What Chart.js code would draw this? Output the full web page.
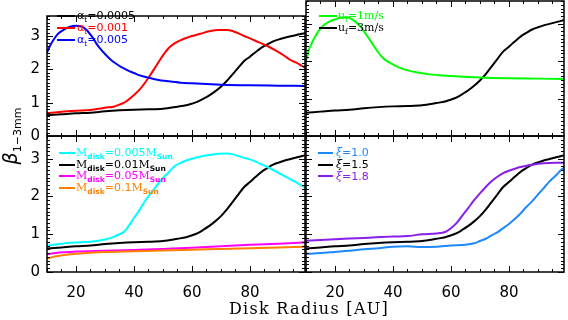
<!DOCTYPE html>
<html><head><meta charset="utf-8">
<script src="https://cdn.jsdelivr.net/npm/chart.js@4"></script>
<style>
html,body{margin:0;padding:0;background:#fff;}
#wrap{position:relative;width:568px;height:320px;overflow:hidden;font-family:"DejaVu Sans",sans-serif;}
canvas{position:absolute;left:0;top:0;}
.leg{position:absolute;}
.row{display:flex;align-items:center;white-space:nowrap;font-size:11px;line-height:11px;}
.sw{display:inline-block;height:2px;flex:none;}
.sf{font-family:"DejaVu Serif",serif;}
.sb{font-size:7.5px;font-weight:bold;position:relative;top:3px;}
.st{font-size:7.5px;position:relative;top:3px;}
#ytitle{position:absolute;left:-35px;top:124px;width:90px;height:24px;line-height:24px;text-align:center;transform:rotate(-90deg);color:#000;white-space:nowrap;}
#xtitle{position:absolute;left:159px;top:299px;width:300px;text-align:center;font-family:"DejaVu Serif",serif;font-size:16px;letter-spacing:1.3px;line-height:20px;color:#000;}
#err{position:absolute;left:0;top:0;font-size:9px;color:#c00;}
</style></head>
<body><div id="wrap">
<canvas id="cTL" width="568" height="320"></canvas>
<canvas id="cTR" width="568" height="320"></canvas>
<canvas id="cBL" width="568" height="320"></canvas>
<canvas id="cBR" width="568" height="320"></canvas>
<div id="ytitle"><i style="font-size:19px">β</i><span style="font-size:11px;position:relative;top:4px;">1−3mm</span></div>
<div id="xtitle">Disk Radius [AU]</div>
<div id="err"></div>
</div>
<script>
// ---- axis ranges and tick labels ----
const xMin = 10, xMax = 99;
const yMin = 0, yMax = 3.6;
const xTickValues = [20, 40, 60, 80];
const yTickValues = [0, 1, 2, 3];

// ---- reference model (black): alpha_t=0.0005, u_f=3m/s, Mdisk=0.01Msun, xi=1.5 ----
const blackX = [10,15,20,25,30,35,40,45,50,55,58,60,62,64,66,68,70,72,74,76,78,80,82,84,86,88,90,92,94,96,98,100];
const blackY = [0.62,0.65,0.68,0.70,0.74,0.77,0.79,0.80,0.82,0.88,0.92,0.97,1.03,1.12,1.22,1.34,1.48,1.65,1.85,2.05,2.25,2.38,2.52,2.65,2.75,2.84,2.90,2.95,2.99,3.03,3.07,3.10];

// ---- alpha_t = 0.001 (red) ----
const alpha001X = [10,15,20,25,30,33,35,37,40,42,44,46,48,50,52,54,56,58,60,63,66,69,72,74,76,78,80,82,84,86,88,90,92,94,96,98,100];
const alpha001Y = [0.68,0.73,0.76,0.78,0.85,0.88,0.94,1.02,1.23,1.40,1.62,1.88,2.15,2.42,2.64,2.78,2.87,2.94,3.00,3.07,3.14,3.18,3.18,3.15,3.08,3.00,2.93,2.85,2.78,2.70,2.61,2.51,2.40,2.28,2.20,2.10,2.00];

// ---- alpha_t = 0.005 (blue) ----
const alpha005X = [10,11,12,13,14,16,18,20,22,23,24,25,26,27,28,30,32,34,36,38,40,42,45,48,52,56,60,65,70,80,90,100];
const alpha005Y = [2.50,2.70,2.85,2.98,3.08,3.20,3.28,3.31,3.28,3.23,3.15,3.04,2.92,2.78,2.66,2.46,2.29,2.16,2.05,1.96,1.89,1.82,1.75,1.69,1.64,1.60,1.58,1.56,1.54,1.52,1.51,1.50];

// ---- u_f = 1 m/s (green) ----
const uf1X = [10,11,12,13,14,16,18,20,22,24,25,27,29,31,33,35,37,39,42,45,48,52,56,60,70,80,90,100];
const uf1Y = [2.00,2.30,2.48,2.63,2.76,2.95,3.05,3.11,3.16,3.17,3.15,3.05,2.90,2.68,2.45,2.22,2.05,1.95,1.83,1.75,1.70,1.65,1.62,1.60,1.56,1.54,1.53,1.52];

// ---- Mdisk = 0.005 Msun (cyan) ----
const m005X = [10,15,20,25,30,33,35,37,40,42,44,46,48,50,52,54,56,58,60,63,66,69,72,74,76,78,80,82,84,86,88,90,92,94,96,98,100];
const m005Y = [0.70,0.75,0.78,0.80,0.86,0.93,1.00,1.10,1.43,1.65,1.90,2.10,2.30,2.49,2.64,2.80,2.88,2.95,3.00,3.06,3.10,3.13,3.14,3.12,3.07,3.02,2.98,2.92,2.85,2.78,2.70,2.62,2.54,2.45,2.37,2.28,2.20];

// ---- Mdisk = 0.05 Msun (magenta) ----
const m05X = [10,15,20,30,40,50,60,70,80,90,100];
const m05Y = [0.47,0.52,0.54,0.56,0.58,0.61,0.64,0.68,0.72,0.75,0.79];

// ---- Mdisk = 0.1 Msun (orange) ----
const m1X = [10,12,15,20,25,30,40,50,60,70,80,90,100];
const m1Y = [0.35,0.40,0.44,0.48,0.51,0.53,0.55,0.57,0.59,0.61,0.63,0.65,0.67];

// ---- xi = 1.0 (light blue) ----
const xi10X = [10,15,20,25,30,35,40,45,50,55,60,65,68,70,72,74,76,78,80,82,84,86,88,90,92,94,96,98,100];
const xi10Y = [0.48,0.50,0.53,0.56,0.60,0.63,0.67,0.68,0.66,0.67,0.70,0.72,0.76,0.82,0.88,0.97,1.05,1.16,1.27,1.40,1.55,1.72,1.87,2.05,2.22,2.40,2.54,2.70,2.82];

// ---- xi = 1.8 (purple) ----
const xi18X = [10,20,30,40,45,50,55,58,60,62,64,66,68,70,72,74,76,78,80,84,88,92,96,100];
const xi18Y = [0.83,0.87,0.90,0.94,0.95,1.00,1.02,1.06,1.16,1.30,1.50,1.70,1.90,2.08,2.25,2.40,2.52,2.62,2.68,2.78,2.84,2.88,2.89,2.89];

// ---- legend labels ----
const legTL = ['α<span class="st">t</span>=0.0005', 'α<span class="st">t</span>=0.001', 'α<span class="st">t</span>=0.005'];
const legTR = ['<span class="sf">u<span class="st">f</span>=1m/s</span>', '<span class="sf">u<span class="st">f</span>=3m/s</span>'];
const legBL = [
  '<span class="sf">M</span><span class="sb">disk</span>=0.005<span class="sf">M</span><span class="sb">Sun</span>',
  '<span class="sf">M</span><span class="sb">disk</span>=0.01<span class="sf">M</span><span class="sb">Sun</span>',
  '<span class="sf">M</span><span class="sb">disk</span>=0.05<span class="sf">M</span><span class="sb">Sun</span>',
  '<span class="sf">M</span><span class="sb">disk</span>=0.1<span class="sf">M</span><span class="sb">Sun</span>'];
const legBR = ['<i class="sf">ξ</i>=1.0', '<i class="sf">ξ</i>=1.5', '<i class="sf">ξ</i>=1.8'];

const C_BLACK = '#000000', C_RED = '#ff0000', C_BLUE = '#0000ff', C_GREEN = '#00ff00',
      C_CYAN = '#00ffff', C_MAG = '#ff00ff', C_ORANGE = '#ff8000', C_LBLUE = '#1e88ff', C_PURPLE = '#8a1eea';

// inward box ticks drawn through the chart scales
const frameTicks = {
  id: 'frameTicks',
  afterDraw(chart) {
    try {
      const ctx = chart.ctx;
      const a = chart.chartArea;
      const xs = chart.scales.x, ys = chart.scales.y;
      ctx.save();
      ctx.strokeStyle = '#000000';
      ctx.lineWidth = 1;
      ctx.beginPath();
      for (let v = xMin; v <= xMax + 1e-9; v += 5) {
        const p = Math.round(xs.getPixelForValue(v)) + 0.5;
        const len = (v % 20 === 0) ? 6 : 3;
        ctx.moveTo(p, a.bottom); ctx.lineTo(p, a.bottom - len);
        ctx.moveTo(p, a.top); ctx.lineTo(p, a.top + len);
      }
      for (let k = 0; k <= 36; k++) {
        const p = Math.round(ys.getPixelForValue(k / 10)) + 0.5;
        const len = (k % 10 === 0) ? 6 : 3;
        ctx.moveTo(a.left, p); ctx.lineTo(a.left + len, p);
        ctx.moveTo(a.right, p); ctx.lineTo(a.right - len, p);
      }
      ctx.stroke();
      ctx.lineWidth = 1.5;
      ctx.strokeRect(a.left, a.top, a.right - a.left, a.bottom - a.top);
      ctx.restore();
    } catch (e) {
      document.getElementById('err').textContent += ' ' + e.message;
    }
  }
};

function makeChart(id, pad, showX, showY, series) {
  return new Chart(document.getElementById(id), {
    type: 'line',
    data: {
      datasets: series.map(s => ({
        data: s.x.map((xv, i) => ({x: xv, y: s.y[i]})),
        borderColor: s.color, backgroundColor: s.color,
        borderWidth: 2, pointRadius: 0, tension: 0.4,
        cubicInterpolationMode: 'monotone', fill: false
      }))
    },
    options: {
      responsive: false, animation: false, events: [],
      layout: {padding: pad, autoPadding: false},
      plugins: {legend: {display: false}, tooltip: {enabled: false}},
      scales: {
        x: {
          type: 'linear', min: xMin, max: xMax, display: showX,
          grid: {display: false, drawTicks: false}, border: {display: false},
          afterBuildTicks: s => { s.ticks = xTickValues.map(v => ({value: v})); },
          afterFit: s => { s.height = showX ? 48 : 0; },
          ticks: {font: {family: 'DejaVu Sans', size: 15}, color: '#000', padding: 12, maxRotation: 0, autoSkip: false}
        },
        y: {
          type: 'linear', min: yMin, max: yMax, display: showY,
          grid: {display: false, drawTicks: false}, border: {display: false},
          afterBuildTicks: s => { s.ticks = yTickValues.map(v => ({value: v})); },
          afterFit: s => { s.width = showY ? 47 : 0; },
          ticks: {font: {family: 'DejaVu Sans', size: 15}, color: '#000', padding: 7, autoSkip: false}
        }
      }
    },
    plugins: [frameTicks]
  });
}

makeChart('cTL', {left: 0, top: 1, right: 263, bottom: 184}, false, true, [
  {x: alpha005X, y: alpha005Y, color: C_BLUE},
  {x: alpha001X, y: alpha001Y, color: C_RED},
  {x: blackX, y: blackY, color: C_BLACK}
]);
makeChart('cTR', {left: 306, top: 1, right: 4, bottom: 184}, false, false, [
  {x: uf1X, y: uf1Y, color: C_GREEN},
  {x: blackX, y: blackY, color: C_BLACK}
]);
makeChart('cBL', {left: 0, top: 136, right: 263, bottom: 0}, true, true, [
  {x: m1X, y: m1Y, color: C_ORANGE},
  {x: m05X, y: m05Y, color: C_MAG},
  {x: m005X, y: m005Y, color: C_CYAN},
  {x: blackX, y: blackY, color: C_BLACK}
]);
makeChart('cBR', {left: 306, top: 136, right: 4, bottom: 0}, true, false, [
  {x: xi10X, y: xi10Y, color: C_LBLUE},
  {x: xi18X, y: xi18Y, color: C_PURPLE},
  {x: blackX, y: blackY, color: C_BLACK}
]);

// HTML legends (real text with subscripts)
function makeLegend(left, top, rowH, lineW, gap, labels, colors) {
  const d = document.createElement('div');
  d.className = 'leg';
  d.style.left = left + 'px';
  d.style.top = top + 'px';
  labels.forEach((lab, i) => {
    const r = document.createElement('div');
    r.className = 'row';
    r.style.height = rowH + 'px';
    r.style.color = colors[i];
    const sw = document.createElement('span');
    sw.className = 'sw';
    sw.style.width = lineW + 'px';
    sw.style.marginRight = gap + 'px';
    sw.style.background = colors[i];
    const t = document.createElement('span');
    t.innerHTML = lab;
    r.appendChild(sw); r.appendChild(t);
    d.appendChild(r);
  });
  document.getElementById('wrap').appendChild(d);
}
makeLegend(57, 10, 12, 18, 2, legTL, [C_BLACK, C_RED, C_BLUE]);
makeLegend(319, 10, 12, 18, 1, legTR, [C_GREEN, C_BLACK]);
makeLegend(59, 147, 11.7, 16, 1, legBL, [C_CYAN, C_BLACK, C_MAG, C_ORANGE]);
makeLegend(318, 147, 11.7, 15, 3, legBR, [C_LBLUE, C_BLACK, C_PURPLE]);
</script>
</body></html>
